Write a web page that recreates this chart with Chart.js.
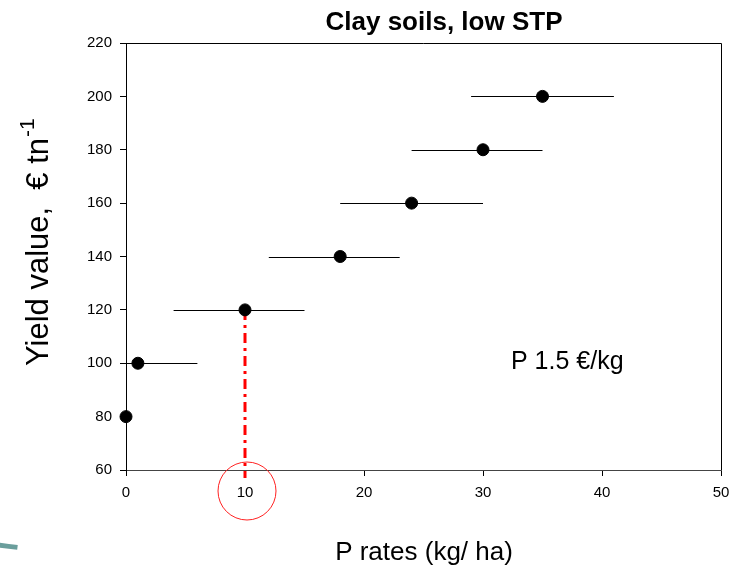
<!DOCTYPE html>
<html>
<head>
<meta charset="utf-8">
<script src="https://cdn.jsdelivr.net/npm/chart.js@4"></script>
<style>
  html, body { margin: 0; padding: 0; background: #fff; }
  #wrap { width: 733px; height: 567px; position: relative; }
</style>
</head>
<body>
<div id="wrap"><canvas id="c"></canvas></div>
<script>
// ---- data ----
const pRates      = [0, 1, 10, 18, 24, 30, 35];
const yieldValues = [80, 100, 120, 140, 160, 180, 200];
const errLow      = [null, -4, 4, 12, 18, 24, 29];
const errHigh     = [null, 6, 15, 23, 30, 35, 41];
const xTicks = [0, 10, 20, 30, 40, 50];
const yTicks = [60, 80, 100, 120, 140, 160, 180, 200, 220];
const markerX = [10, 10];
const markerY = [120, 57];

const titleText = 'Clay soils, low STP';
const xTitle = 'P rates (kg/ ha)';
const yTitleMain = 'Yield value,  € tn';
const yTitleSup = '-1';
const priceNote = 'P 1.5 €/kg';

const FONT = '"Liberation Sans", Arial, sans-serif';

const points = pRates.map((x, i) => ({ x: x, y: yieldValues[i] }));
const marker = markerX.map((x, i) => ({ x: x, y: markerY[i] }));

const decor = {
  id: 'decor',
  beforeDatasetsDraw(chart) {
    const { ctx, chartArea, scales } = chart;
    const xs = scales.x, ys = scales.y;
    ctx.save();
    // error bars
    ctx.beginPath();
    ctx.rect(chartArea.left, 0, chartArea.right - chartArea.left, chart.height);
    ctx.clip();
    ctx.strokeStyle = '#000';
    ctx.lineWidth = 1;
    pRates.forEach((x, i) => {
      if (errLow[i] === null) return;
      const py = Math.round(ys.getPixelForValue(yieldValues[i])) + 0.5;
      ctx.beginPath();
      ctx.moveTo(xs.getPixelForValue(errLow[i]), py);
      ctx.lineTo(xs.getPixelForValue(errHigh[i]), py);
      ctx.stroke();
    });
    ctx.restore();
  },
  afterDraw(chart) {
    const { ctx, chartArea, scales } = chart;
    const xs = scales.x, ys = scales.y;
    ctx.save();
    // box top/right
    ctx.strokeStyle = '#000';
    ctx.lineWidth = 1;
    ctx.beginPath();
    ctx.moveTo(chartArea.left, chartArea.top + 0.5);
    ctx.lineTo(chartArea.right + 0.5, chartArea.top + 0.5);
    ctx.lineTo(chartArea.right + 0.5, chartArea.bottom);
    ctx.stroke();

    // title
    ctx.fillStyle = '#000';
    ctx.font = 'bold 26px ' + FONT;
    ctx.textAlign = 'center';
    ctx.textBaseline = 'alphabetic';
    ctx.fillText(titleText, 444, 30);

    // x title
    ctx.font = '26px ' + FONT;
    ctx.fillText(xTitle, 424, 560);

    // note
    ctx.font = '25px ' + FONT;
    ctx.textAlign = 'left';
    ctx.fillText(priceNote, 511, 369);

    // y title rotated
    ctx.save();
    ctx.translate(48, 366);
    ctx.rotate(-Math.PI / 2);
    ctx.font = '31px ' + FONT;
    ctx.textAlign = 'left';
    ctx.fillText(yTitleMain, 0, 0);
    const w = ctx.measureText(yTitleMain).width;
    ctx.font = '21px ' + FONT;
    ctx.fillText(yTitleSup, w + 1, -14);
    ctx.restore();

    // red circle around the 10 tick label
    ctx.strokeStyle = '#ff2020';
    ctx.lineWidth = 1;
    ctx.beginPath();
    ctx.arc(xs.getPixelForValue(10) + 2, 491, 29, 0, Math.PI * 2);
    ctx.stroke();

    // teal decorative arc at bottom-left
    ctx.strokeStyle = '#6a9e9c';
    ctx.lineWidth = 5;
    ctx.beginPath();
    ctx.arc(150, -600, 1155, Math.PI / 2 + 0.115, Math.PI / 2 + 0.135);
    ctx.stroke();
    ctx.restore();
  }
};

new Chart(document.getElementById('c'), {
  type: 'scatter',
  data: {
    datasets: [
      {
        label: 'marker',
        type: 'line',
        data: marker,
        borderColor: '#ff0000',
        borderWidth: 3,
        borderDash: [10, 5, 3, 5],
        pointRadius: 0,
        fill: false,
        clip: false,
        order: 2
      },
      {
        label: 'Yield value',
        data: points,
        backgroundColor: '#000',
        borderColor: '#000',
        pointRadius: 6,
        pointHoverRadius: 6,
        clip: false,
        order: 1
      }
    ]
  },
  options: {
    responsive: true,
    maintainAspectRatio: false,
    animation: false,
    events: [],
    layout: { padding: { top: 43, right: 12, left: 0, bottom: 0 } },
    plugins: {
      legend: { display: false },
      title: { display: false },
      tooltip: { enabled: false }
    },
    scales: {
      x: {
        type: 'linear',
        min: 0, max: 50,
        afterBuildTicks: (s) => { s.ticks = xTicks.map(v => ({ value: v })); },
        afterFit: (s) => { s.height = 97; s.paddingRight = 0; s.paddingLeft = 0; },
        grid: { display: true, drawOnChartArea: false, drawTicks: true, tickLength: 6, color: '#000' },
        border: { display: true, color: '#444', width: 1 },
        ticks: { color: '#000', font: { family: FONT, size: 15 }, padding: 8, maxRotation: 0 }
      },
      y: {
        type: 'linear',
        min: 60, max: 220,
        afterBuildTicks: (s) => { s.ticks = yTicks.map(v => ({ value: v })); },
        afterFit: (s) => { s.width = 126; s.paddingTop = 0; s.paddingBottom = 0; },
        grid: { display: true, drawOnChartArea: false, drawTicks: true, tickLength: 6, color: '#000' },
        border: { display: true, color: '#000', width: 1 },
        ticks: { color: '#000', font: { family: FONT, size: 15 }, padding: 8 }
      }
    }
  },
  plugins: [decor]
});
</script>
</body>
</html>
